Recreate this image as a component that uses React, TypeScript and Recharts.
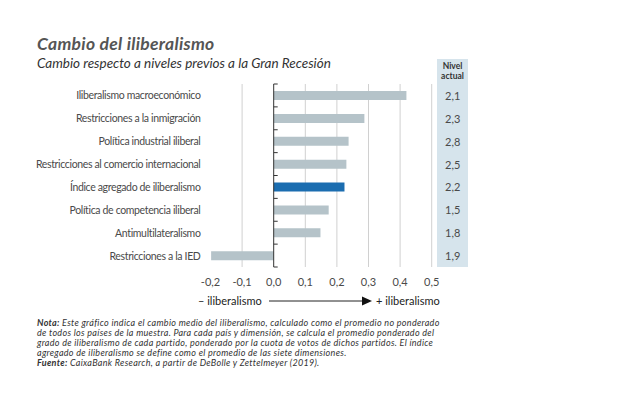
import {
  BarChart,
  Bar,
  XAxis,
  YAxis,
  CartesianGrid,
  ReferenceLine,
  Cell,
} from 'recharts';

const categories = [
  'Iliberalismo macroeconómico',
  'Restricciones a la inmigración',
  'Política industrial iliberal',
  'Restricciones al comercio internacional',
  'Índice agregado de iliberalismo',
  'Política de competencia iliberal',
  'Antimultilateralismo',
  'Restricciones a la IED',
];
const cambio = [0.42, 0.287, 0.237, 0.23, 0.224, 0.174, 0.148, -0.198];
const nivelActual = ['2,1', '2,3', '2,8', '2,5', '2,2', '1,5', '1,8', '1,9'];
const xTicks = [-0.2, -0.1, 0, 0.1, 0.2, 0.3, 0.4, 0.5];
const gridTicks = [-0.1, 0.1, 0.2, 0.3, 0.4, 0.5];
const xDomain = [-0.2, 0.5];
const highlight = 'Índice agregado de iliberalismo';

const data = categories.map((name, i) => ({
  name,
  value: cambio[i],
  nivel: nivelActual[i],
}));

const TEXT = '#4a4a4a';
const FONT = 'Lato, "Open Sans", sans-serif';

const fmt = (v: number) => v.toFixed(1).replace('.', ',');

const CategoryTick = (props: any) => {
  const { x, y, payload } = props;
  return (
    <text
      x={x}
      y={y}
      textAnchor="end"
      dominantBaseline="central"
      fontSize={10.5}
      letterSpacing={-0.35}
      fill={TEXT}
      fontFamily={FONT}
    >
      {payload.value}
    </text>
  );
};

const NivelTick = (props: any) => {
  const { x, y, payload } = props;
  const row = data.find((d) => d.name === payload.value);
  return (
    <text
      x={x + 21}
      y={y}
      textAnchor="middle"
      dominantBaseline="central"
      fontSize={11}
      fill={TEXT}
      fontFamily={FONT}
    >
      {row ? row.nivel : ''}
    </text>
  );
};

// zero line with small ticks at the band edges
const ZeroLine = (props: any) => {
  const { x1, y1, y2 } = props;
  const n = categories.length;
  const step = (y2 - y1) / n;
  const marks = [];
  for (let i = 0; i <= n; i++) {
    const y = y1 + i * step;
    marks.push(
      <line key={i} x1={x1} x2={x1 + 4} y1={y} y2={y} stroke="#333" strokeWidth={1} />
    );
  }
  return (
    <g>
      <line x1={x1} x2={x1} y1={y1} y2={y2} stroke="#333" strokeWidth={1} />
      {marks}
    </g>
  );
};

export default function App() {
  return (
    <div
      style={{
        position: 'absolute',
        left: 0,
        top: 0,
        width: 625,
        height: 400,
        background: '#fff',
        fontFamily: FONT,
        color: TEXT,
      }}
    >
      <div
        style={{
          position: 'absolute',
          left: 437,
          top: 59,
          width: 31,
          height: 208,
          background: '#d6e4ec',
        }}
      />
      <div
        style={{
          position: 'absolute',
          left: 437,
          top: 61,
          width: 31,
          textAlign: 'center',
          fontSize: 8.5,
          fontWeight: 700,
          lineHeight: '10px',
          color: '#333',
        }}
      >
        Nivel
        <br />
        actual
      </div>
      <div
        style={{
          position: 'absolute',
          left: 37,
          top: 33,
          fontSize: 17.5,
          fontWeight: 700,
          fontStyle: 'italic',
          letterSpacing: 0.3,
          color: '#555',
          whiteSpace: 'nowrap',
        }}
      >
        Cambio del iliberalismo
      </div>
      <div
        style={{
          position: 'absolute',
          left: 37,
          top: 55,
          fontSize: 13.5,
          fontStyle: 'italic',
          color: '#333',
          whiteSpace: 'nowrap',
        }}
      >
        Cambio respecto a niveles previos a la Gran Recesión
      </div>

      <div style={{ position: 'absolute', left: 0, top: 0 }}>
        <BarChart
          width={625}
          height={400}
          data={data}
          layout="vertical"
          margin={{ top: 84, right: 153.3, bottom: 103, left: 10.5 }}
        >
          <CartesianGrid
            horizontal={false}
            stroke="#d0d0d0"
            verticalCoordinatesGenerator={({ offset }: any) =>
              gridTicks.map(
                (t) =>
                  offset.left +
                  ((t - xDomain[0]) / (xDomain[1] - xDomain[0])) * offset.width
              )
            }
          />
          <XAxis
            type="number"
            domain={xDomain}
            ticks={xTicks}
            interval={0}
            tickFormatter={fmt}
            axisLine={false}
            tickLine={false}
            tickSize={0}
            tickMargin={11}
            height={30}
            tick={{ fontSize: 11, fill: TEXT, fontFamily: FONT }}
          />
          <YAxis
            type="category"
            dataKey="name"
            width={200}
            axisLine={false}
            tickLine={false}
            tickSize={0}
            tickMargin={10}
            interval={0}
            tick={<CategoryTick />}
          />
          <YAxis
            yAxisId="nivel"
            orientation="right"
            type="category"
            dataKey="name"
            width={40}
            axisLine={false}
            tickLine={false}
            tickSize={0}
            tickMargin={0}
            interval={0}
            tick={<NivelTick />}
          />
          <Bar dataKey="value" barSize={9} isAnimationActive={false}>
            {data.map((d) => (
              <Cell key={d.name} fill={d.name === highlight ? '#1b6db0' : '#b5c3c9'} />
            ))}
          </Bar>
          <ReferenceLine x={0} shape={<ZeroLine />} />
        </BarChart>
      </div>

      <svg
        width={625}
        height={400}
        style={{ position: 'absolute', left: 0, top: 0, pointerEvents: 'none' }}
      >
        <text x={198} y={305} fontSize={11} fill="#222" fontFamily={FONT}>
          – iliberalismo
        </text>
        <line x1={269} x2={364} y1={301} y2={301} stroke="#222" strokeWidth={1} />
        <path d="M362,296.5 L372,301 L362,305.5 Z" fill="#111" />
        <text x={376} y={305} fontSize={11} fill="#222" fontFamily={FONT}>
          + iliberalismo
        </text>
      </svg>

      <div
        style={{
          position: 'absolute',
          left: 37,
          top: 318,
          fontSize: 9,
          fontStyle: 'italic',
          lineHeight: '10px',
          color: '#333',
          whiteSpace: 'nowrap',
          letterSpacing: 0.3,
        }}
      >
        <b>Nota:</b> Este gráfico indica el cambio medio del iliberalismo, calculado como el promedio no ponderado
        <br />
        de todos los países de la muestra. Para cada país y dimensión, se calcula el promedio ponderado del
        <br />
        grado de iliberalismo de cada partido, ponderado por la cuota de votos de dichos partidos. El índice
        <br />
        agregado de iliberalismo se define como el promedio de las siete dimensiones.
        <br />
        <b>Fuente:</b> CaixaBank Research, a partir de DeBolle y Zettelmeyer (2019).
      </div>
    </div>
  );
}
